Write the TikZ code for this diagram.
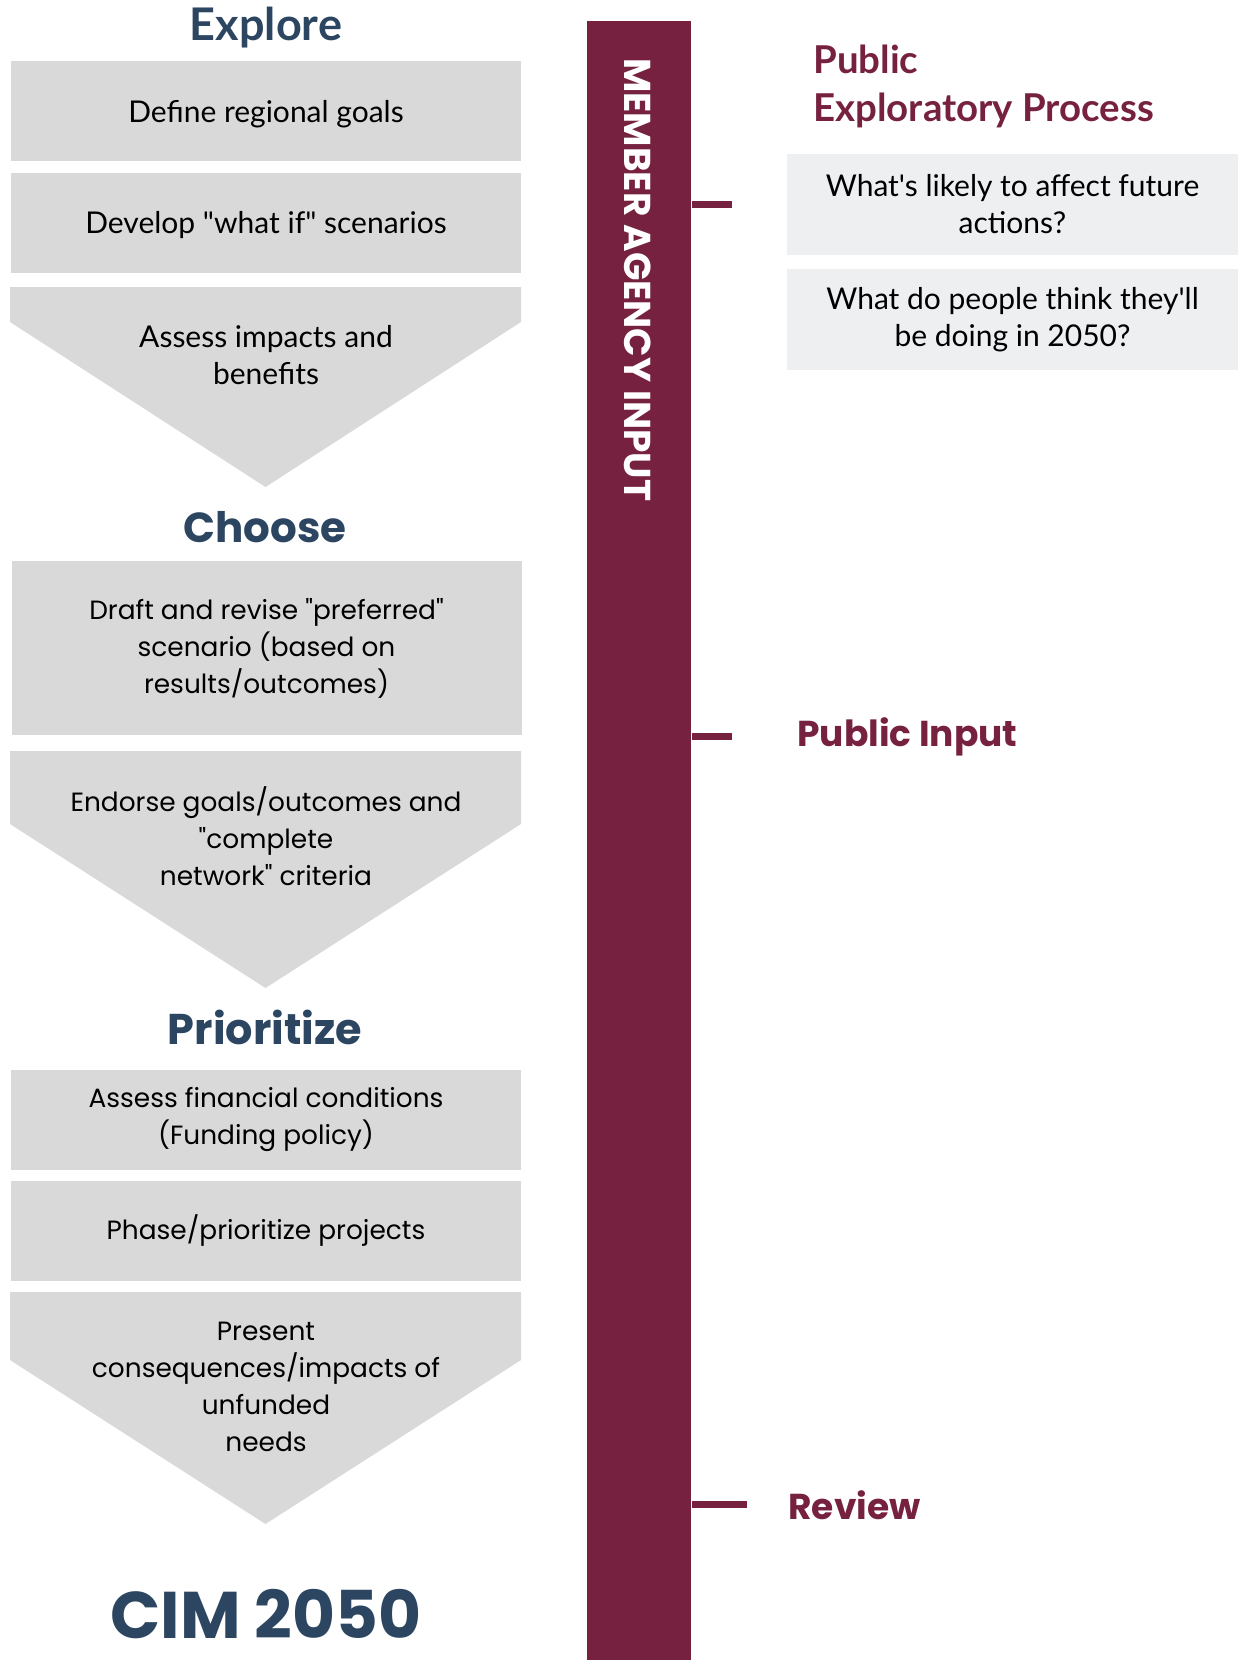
\documentclass[tikz,border=0pt]{standalone}
\usepackage{fontspec}
\setmainfont{Lato}[Ligatures=TeXOff]
\newfontfamily\geofont{Poppins}
\usetikzlibrary{positioning,calc}
\definecolor{navy}{HTML}{2C4661}
\definecolor{maroon}{HTML}{76213F}
\definecolor{boxgray}{HTML}{D9D9D9}
\definecolor{askgray}{HTML}{EEEFF1}
\tikzset{
  humtext/.style={font=\fontsize{15}{18.5}\selectfont, align=center},
  geotext/.style={font=\geofont\fontsize{13.2}{18.5}\selectfont, align=center},
}
\begin{document}
\begin{tikzpicture}[x=0.5pt, y=-0.5pt, line join=round,
    stepbox/.style={fill=boxgray, inner sep=0pt, minimum width=255pt, minimum height=50pt},
    askbox/.style={humtext, fill=askgray, inner sep=0pt, minimum width=225.5pt, minimum height=50.5pt},
    phase/.style={text=navy, font=\geofont\bfseries\fontsize{21}{21}\selectfont, anchor=base, inner sep=0pt},
    stage/.style={text=maroon, font=\geofont\bfseries\fontsize{18}{18}\selectfont, anchor=base west, inner sep=0pt},
    tick/.style={maroon, line width=3.5pt}]
  \useasboundingbox (0,0) rectangle (1238,1660);
  % chevrons first, text on top
  \foreach \t/\m/\b in {287/322/487, 751/824/988, 1292/1360/1524}
    \fill[boxgray] (10,\t) -- (521,\t) -- (521,\m) -- (265.5,\b) -- (10,\m) -- cycle;
  % left column
  \node[phase, font=\bfseries\fontsize{22.5}{22.5}\selectfont] (explore) at (266,40) {Explore};
  \node[stepbox, humtext, text depth=0pt] (goals) at (266,111) {Define regional goals};
  \node[stepbox, humtext, text depth=0pt] (whatif) at (266,222.5) {Develop "what if" scenarios};
  \node[humtext] (impacts) at (266,355) {Assess impacts and\\benefits};
  \node[phase] (choose) at (265,542) {Choose};
  \node[stepbox, geotext, minimum height=87pt] (draft) at (266.5,648) {Draft and revise "preferred"\\scenario (based on\\results/outcomes)};
  \node[geotext] (endorse) at (266,836) {Endorse goals/outcomes and\\"complete\\network" criteria};
  \node[phase, font=\geofont\bfseries\fontsize{21.5}{21.5}\selectfont] (prior) at (265,1044) {Prioritize};
  \node[stepbox, geotext] (finance) at (266,1119.5) {Assess financial conditions\\(Funding policy)};
  \node[stepbox, geotext] (phase) at (266,1230.5) {Phase/prioritize projects};
  \node[geotext] (present) at (266,1387) {Present\\consequences/impacts of\\unfunded\\needs};
  \node[phase, font=\geofont\bfseries\fontsize{33}{33}\selectfont] (cim) at (266,1638) {CIM 2050};
  % member bar
  \node[fill=maroon, inner sep=0pt, minimum width=52pt, minimum height=819.5pt, anchor=north west] (bar) at (587,21) {};
  \node[text=white, font=\geofont\bfseries\fontsize{18.7}{18.7}\selectfont, rotate=-90, anchor=west, inner sep=0pt] (member) at (638,58) {MEMBER AGENCY INPUT};
  % right column
  \node[text=maroon, font=\bfseries\fontsize{19.2}{24}\selectfont, align=left, anchor=north west, inner sep=0pt] (pubexp) at (813,45) {Public\\Exploratory Process};
  \node[askbox] (ask1) at (1012.5,204.5) {What's likely to affect future\\actions?};
  \node[askbox] (ask2) at (1012.5,319.5) {What do people think they'll\\be doing in 2050?};
  \node[stage] (pubin) at (797,746) {Public Input};
  \node[stage] (review) at (788,1519) {Review};
  \draw[tick] (bar.east |- ask1.west) -- +(20pt,0);
  \draw[tick] (bar.east |- pubin.west) -- +(20pt,0);
  \draw[tick] (bar.east |- review.west) -- +(27.5pt,0);
\end{tikzpicture}
\end{document}
